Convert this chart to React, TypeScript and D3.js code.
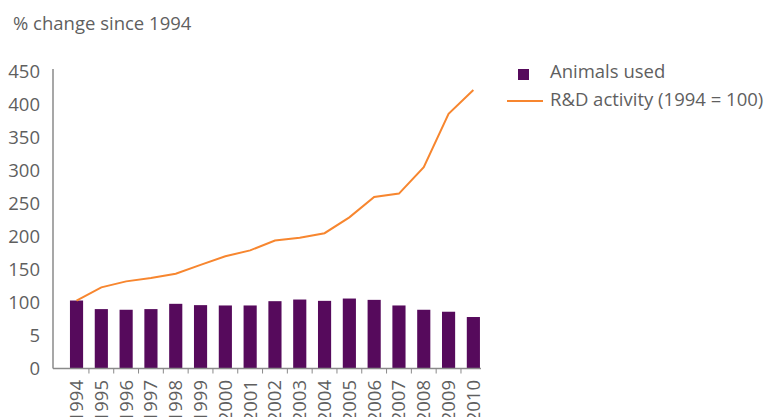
import React from "react";
import * as d3 from "d3";

const years = ["1994","1995","1996","1997","1998","1999","2000","2001","2002","2003","2004","2005","2006","2007","2008","2009","2010"];
const animalsUsed = [103, 90, 89, 90, 98, 96, 95.5, 95.5, 102, 104.5, 102.5, 106, 104, 95.5, 89, 86, 78];
const rdActivity = [103, 123, 132, 137, 143.5, 157, 170, 179, 194, 198, 205, 229, 260, 265, 305, 386, 422];
const yTicks = [0, 50, 100, 150, 200, 250, 300, 350, 400, 450];
const yTickLabels = ["0", "5", "100", "150", "200", "250", "300", "350", "400", "450"];

const W = 771, H = 417;
const FONT = "'Open Sans', sans-serif";
const FS = 18.5;
const TEXT = "#5f5f5f";
const AXIS = "#8a8a8a";
const BAR = "#560a5c";
const LINE = "#f7862f";

export default function App() {
  const y = d3.scaleLinear().domain([0, 450]).range([368.5, 71.5]);
  const x = d3.scaleBand().domain(years).range([58.3, 491.6]).paddingInner(0.47).paddingOuter(0.47);
  const bw = x.bandwidth();
  const step = x.step();
  const line = d3.line<number>()
    .x((_, i) => (x(years[i]) as number) + bw / 2)
    .y((d) => y(d));
  const x0 = 53;
  const xEnd = (x(years[years.length - 1]) as number) + bw + 1;

  return (
    <svg width={W} height={H} style={{ position: "absolute", left: 0, top: 0, background: "#fff" }}>
      <text x={13} y={30} fontFamily={FONT} fontSize={FS} fill={TEXT}>% change since 1994</text>

      {yTicks.map((t, i) => (
        <text key={t} x={40} y={y(t)} dy="0.35em" textAnchor="end" fontFamily={FONT} fontSize={FS} fill={TEXT}>
          {yTickLabels[i]}
        </text>
      ))}

      {years.map((yr, i) => (
        <rect key={yr} x={x(yr)} y={y(animalsUsed[i])} width={bw} height={y(0) - y(animalsUsed[i])} fill={BAR} />
      ))}

      <path d={line(rdActivity) || ""} fill="none" stroke={LINE} strokeWidth={2} />

      <line x1={x0} x2={x0} y1={69} y2={y(0)} stroke={AXIS} strokeWidth={1.5} />
      <line x1={x0} x2={xEnd} y1={y(0)} y2={y(0)} stroke={AXIS} strokeWidth={1.5} />
      {years.slice(0, -1).map((yr) => {
        const tx = (x(yr) as number) + bw / 2 + step / 2;
        return <line key={"t" + yr} x1={tx} x2={tx} y1={y(0)} y2={y(0) + 5} stroke={AXIS} strokeWidth={1} />;
      })}

      {years.map((yr) => {
        const cx = (x(yr) as number) + bw / 2;
        return (
          <text key={"l" + yr} transform={`translate(${cx},${380}) rotate(-90)`} dy="0.35em" textAnchor="end"
            fontFamily={FONT} fontSize={FS} fill={TEXT}>
            {yr}
          </text>
        );
      })}

      <rect x={518} y={69} width={11} height={11} fill={BAR} />
      <text x={550} y={72} dy="0.35em" fontFamily={FONT} fontSize={FS} fill={TEXT}>Animals used</text>
      <line x1={507} x2={543} y1={101} y2={101} stroke={LINE} strokeWidth={2} />
      <text x={550} y={100} dy="0.35em" fontFamily={FONT} fontSize={FS} fill={TEXT}>R&amp;D activity (1994 = 100)</text>
    </svg>
  );
}
